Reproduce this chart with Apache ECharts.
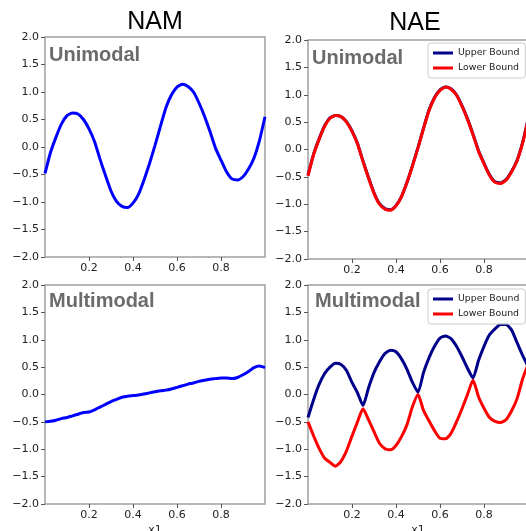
<!DOCTYPE html>
<html>
<head>
<meta charset="utf-8">
<script src="https://cdn.jsdelivr.net/npm/echarts@6/dist/echarts.min.js"></script>
<style>
  html, body { margin: 0; padding: 0; background: #fff; }
  #chart { width: 526px; height: 531px; }
</style>
</head>
<body>
<div id="chart"></div>
<script>
// sample positions along x1
var xs = [0.000, 0.025, 0.050, 0.075, 0.100, 0.125, 0.150, 0.175, 0.200, 0.225,
          0.250, 0.275, 0.300, 0.325, 0.350, 0.375, 0.400, 0.425, 0.450, 0.475,
          0.500, 0.525, 0.550, 0.575, 0.600, 0.625, 0.650, 0.675, 0.700, 0.725,
          0.750, 0.775, 0.800, 0.825, 0.850, 0.875, 0.900, 0.925, 0.950, 0.975, 1.000];

// NAM, unimodal
var namUni = [-0.48, -0.10, 0.18, 0.42, 0.57, 0.62, 0.60, 0.50, 0.33, 0.10,
              -0.22, -0.52, -0.80, -0.99, -1.08, -1.10, -1.02, -0.86, -0.60, -0.30,
              0.03, 0.38, 0.72, 0.95, 1.09, 1.14, 1.10, 1.00, 0.80, 0.56,
              0.28, -0.02, -0.24, -0.45, -0.58, -0.60, -0.54, -0.40, -0.20, 0.12, 0.55];

// NAM, multimodal
var namMulti = [-0.50, -0.49, -0.47, -0.44, -0.42, -0.39, -0.36, -0.33, -0.32, -0.28,
                -0.23, -0.18, -0.13, -0.09, -0.05, -0.03, -0.02, -0.01, 0.01, 0.03,
                0.05, 0.07, 0.08, 0.10, 0.13, 0.16, 0.19, 0.21, 0.24, 0.26,
                0.28, 0.29, 0.30, 0.30, 0.29, 0.31, 0.36, 0.42, 0.49, 0.52, 0.49];

// NAE, unimodal (both bounds almost on top of each other)
var naeUniUpper = [-0.47, -0.09, 0.19, 0.43, 0.58, 0.62, 0.60, 0.51, 0.34, 0.11,
                   -0.21, -0.51, -0.79, -0.99, -1.08, -1.10, -1.02, -0.86, -0.60, -0.29,
                   0.04, 0.39, 0.72, 0.95, 1.09, 1.14, 1.11, 1.00, 0.80, 0.56,
                   0.28, -0.02, -0.25, -0.46, -0.59, -0.61, -0.55, -0.40, -0.20, 0.12, 0.55];
var naeUniLower = [-0.48, -0.10, 0.18, 0.42, 0.57, 0.62, 0.60, 0.50, 0.33, 0.10,
                   -0.22, -0.52, -0.80, -1.00, -1.09, -1.11, -1.03, -0.86, -0.60, -0.30,
                   0.03, 0.38, 0.71, 0.94, 1.08, 1.14, 1.10, 0.99, 0.79, 0.55,
                   0.27, -0.03, -0.26, -0.47, -0.60, -0.62, -0.56, -0.41, -0.21, 0.11, 0.54];

// NAE, multimodal
var naeMultiUpper = [-0.42, -0.10, 0.18, 0.38, 0.50, 0.57, 0.55, 0.44, 0.22, 0.03,
                     -0.20, 0.12, 0.40, 0.60, 0.75, 0.81, 0.78, 0.65, 0.46, 0.22,
                     0.04, 0.40, 0.67, 0.88, 1.03, 1.07, 1.02, 0.88, 0.69, 0.48,
                     0.30, 0.62, 0.88, 1.09, 1.20, 1.28, 1.28, 1.18, 0.95, 0.72, 0.52];
var naeMultiLower = [-0.50, -0.75, -0.98, -1.16, -1.24, -1.31, -1.22, -1.03, -0.76, -0.50,
                     -0.26, -0.46, -0.68, -0.89, -0.99, -1.01, -0.93, -0.77, -0.55, -0.22,
                     0.00, -0.29, -0.48, -0.66, -0.80, -0.81, -0.71, -0.50, -0.26, 0.00,
                     0.26, -0.04, -0.25, -0.42, -0.49, -0.51, -0.46, -0.30, -0.08, 0.28, 0.55];

var xTicks = [0.2, 0.4, 0.6, 0.8];
var legendNames = ['Upper Bound', 'Lower Bound'];

var tickFont = 'DejaVu Sans';
var spine = '#a0a0a0';

function pairs(ys) {
  return xs.map(function(x, i) { return [x, ys[i]]; });
}

function xAxisFor(idx, withName) {
  return {
    type: 'value',
    gridIndex: idx,
    min: 0,
    max: 1,
    axisLine: { show: false, onZero: false },
    axisTick: { show: true, customValues: xTicks, length: 4, lineStyle: { color: '#555' } },
    axisLabel: {
      customValues: xTicks,
      formatter: function(v) { return v.toFixed(1); },
      color: '#222',
      fontFamily: tickFont,
      fontSize: 11,
      margin: 6
    },
    splitLine: { show: false },
    name: withName ? 'x1' : '',
    nameLocation: 'middle',
    nameGap: 21,
    nameTextStyle: { color: '#222', fontFamily: tickFont, fontSize: 11 }
  };
}

function yAxisFor(idx) {
  return {
    type: 'value',
    gridIndex: idx,
    min: -2,
    max: 2,
    interval: 0.5,
    axisLine: { show: false, onZero: false },
    axisTick: { show: true, length: 4, lineStyle: { color: '#555' } },
    axisLabel: {
      formatter: function(v) { return v.toFixed(1).replace('-', '\u2212'); },
      color: '#222',
      fontFamily: tickFont,
      fontSize: 11,
      margin: 6
    },
    splitLine: { show: false }
  };
}

function lineSeries(name, idx, ys, color) {
  return {
    type: 'line',
    name: name,
    xAxisIndex: idx,
    yAxisIndex: idx,
    data: pairs(ys),
    showSymbol: false,
    smooth: 0.2,
    lineStyle: { color: color, width: 3 },
    itemStyle: { color: color },
    z: 3
  };
}

function legendAt(top) {
  return {
    data: legendNames,
    orient: 'vertical',
    left: 428,
    top: top,
    icon: 'rect',
    itemWidth: 20,
    itemHeight: 3,
    itemGap: 3,
    padding: [4, 6, 4, 5],
    backgroundColor: 'rgba(255,255,255,0.85)',
    borderColor: '#cccccc',
    borderWidth: 1,
    borderRadius: 3,
    textStyle: { color: '#222', fontFamily: tickFont, fontSize: 9.4, lineHeight: 12 }
  };
}

// panel annotation, y is the top of the text box
function label(text, x, y) {
  return {
    type: 'text',
    x: x,
    y: y,
    style: {
      text: text,
      fill: '#6b6b6b',
      font: 'bold 20px "Liberation Sans"',
      textVerticalAlign: 'top'
    },
    z: 10
  };
}

function title(text, x, y) {
  return {
    type: 'text',
    x: x,
    y: y,
    style: {
      text: text,
      fill: '#000',
      font: '25px "Liberation Sans"',
      textAlign: 'center',
      textVerticalAlign: 'middle'
    }
  };
}

var chart = echarts.init(document.getElementById('chart'), null, { renderer: 'canvas' });

// fixed panel boxes, labels may run past the canvas edge as in the original
var gridStyle = {
  show: true, borderColor: spine, borderWidth: 1.5, backgroundColor: '#fff',
  containLabel: false, outerBoundsMode: 'none'
};

chart.setOption({
  animation: false,
  grid: [
    Object.assign({ left: 45, top: 37, width: 220, height: 220 }, gridStyle),
    Object.assign({ left: 308, top: 40, width: 220, height: 219 }, gridStyle),
    Object.assign({ left: 45, top: 285, width: 220, height: 219 }, gridStyle),
    Object.assign({ left: 308, top: 285, width: 220, height: 219 }, gridStyle)
  ],
  xAxis: [xAxisFor(0, false), xAxisFor(1, false), xAxisFor(2, true), xAxisFor(3, true)],
  yAxis: [yAxisFor(0), yAxisFor(1), yAxisFor(2), yAxisFor(3)],
  legend: [legendAt(43), legendAt(289)],
  series: [
    lineSeries('NAM', 0, namUni, '#0000ff'),
    lineSeries('Upper Bound', 1, naeUniUpper, '#00008b'),
    lineSeries('Lower Bound', 1, naeUniLower, '#ff0000'),
    lineSeries('NAM', 2, namMulti, '#0000ff'),
    lineSeries('Upper Bound', 3, naeMultiUpper, '#00008b'),
    lineSeries('Lower Bound', 3, naeMultiLower, '#ff0000')
  ],
  graphic: [
    title('NAM', 155, 22),
    title('NAE', 415, 23),
    label('Unimodal', 49, 45),
    label('Unimodal', 312, 48),
    label('Multimodal', 49, 291),
    label('Multimodal', 315, 291)
  ]
});
</script>
</body>
</html>
